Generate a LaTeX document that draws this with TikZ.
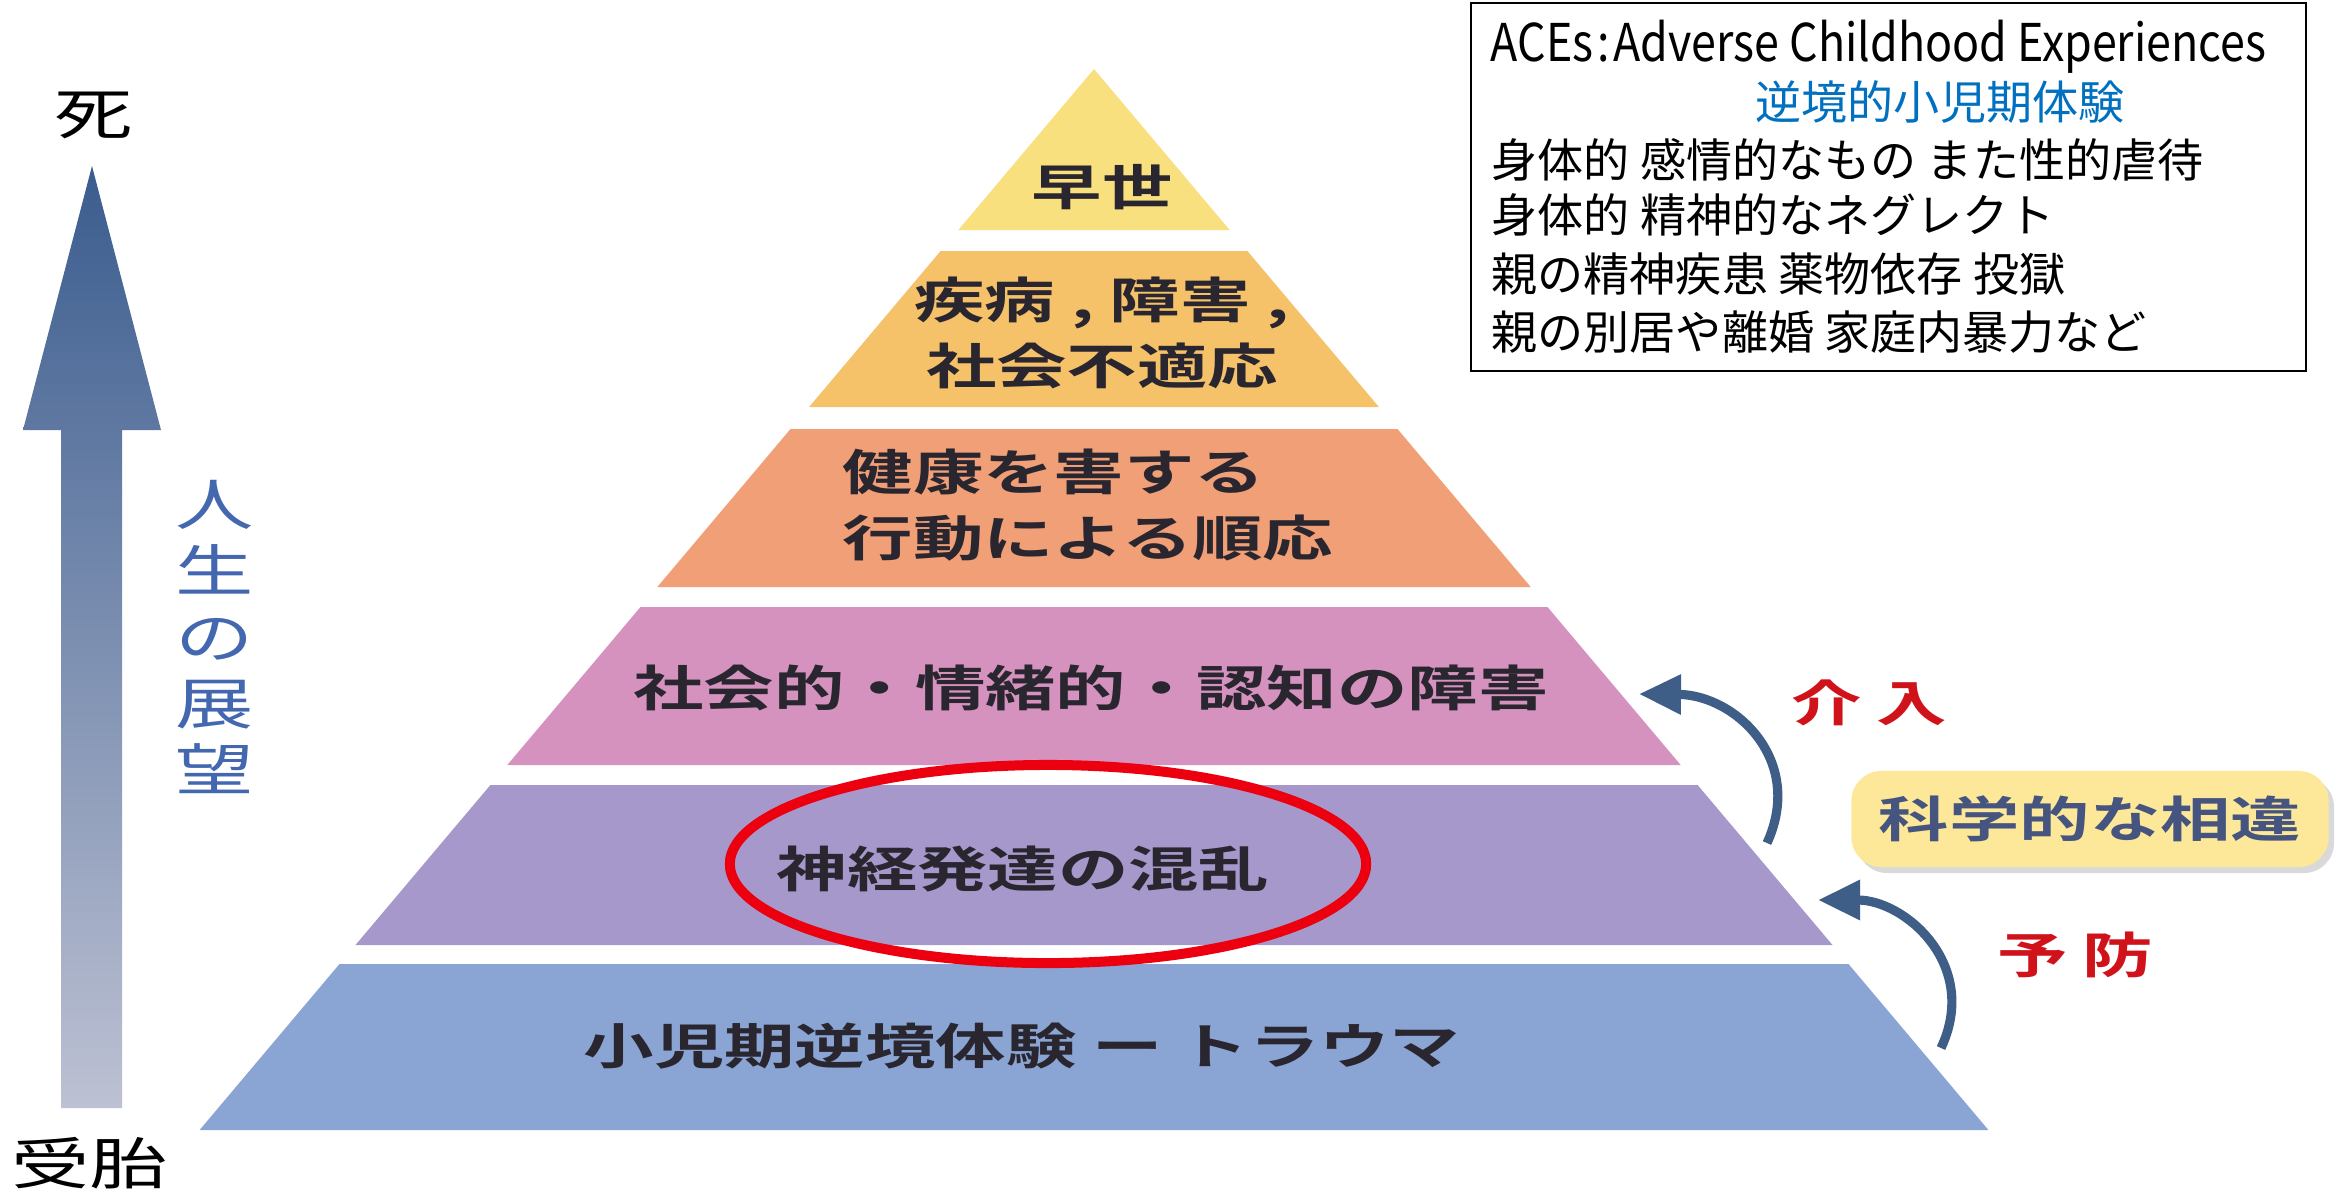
\documentclass[tikz,border=0pt]{standalone}
\usepackage{fontspec}
\usetikzlibrary{arrows.meta,shapes.geometric}
\newfontfamily\pyrfont[FakeStretch=1.44]{Noto Sans CJK JP Bold}
\newfontfamily\sidefont[FakeStretch=1.4]{Noto Sans CJK JP}
\newfontfamily\boxfont{Noto Sans CJK JP}
\newfontfamily\latinfont[FakeStretch=0.86]{Noto Sans CJK JP}
\definecolor{lyA}{HTML}{F9E07E}
\definecolor{lyB}{HTML}{F5C26A}
\definecolor{lyC}{HTML}{F09F77}
\definecolor{lyD}{HTML}{D592BF}
\definecolor{lyE}{HTML}{A698CA}
\definecolor{lyF}{HTML}{8AA5D4}
\definecolor{pyrtext}{HTML}{2A2630}
\definecolor{arctop}{HTML}{3A5C8E}
\definecolor{arcbot}{HTML}{BDC1D3}
\definecolor{lifeblue}{HTML}{4468B0}
\definecolor{curvecol}{HTML}{3E5E88}
\definecolor{redlabel}{HTML}{D0121B}
\definecolor{ellred}{HTML}{EC0010}
\definecolor{scifill}{HTML}{FCE898}
\definecolor{scitext}{HTML}{46557F}
\definecolor{aceblue}{HTML}{0070C0}
\tikzset{
  pyrlabel/.style={text=pyrtext, inner sep=0pt, font={\pyrfont\fontsize{13.9pt}{19pt}\selectfont}},
  sidelabel/.style={inner sep=0pt, font={\sidefont\fontsize{15.9pt}{18.8pt}\selectfont}},
  boxline/.style={inner sep=0pt, anchor=west, font={\boxfont\fontsize{13.1pt}{16pt}\selectfont}},
  curvearrow/.style={draw=curvecol, line width=2.6pt, -{Triangle[length=0.42cm,width=0.38cm]}},
  redlab/.style={text=redlabel, inner sep=0pt, font={\pyrfont\fontsize{13.9pt}{19pt}\selectfont}},
}
\begin{document}
\begin{tikzpicture}[x=0.01cm,y=-0.01cm]
\useasboundingbox (0,0) rectangle (2336,1196);
\fill[white] (0,0) rectangle (2336,1196);

% pyramid layers
\fill[lyA] (1094,69) -- (1229.7,230) -- (958.3,230) -- cycle;
\fill[lyB] (940.6,251) -- (1247.4,251) -- (1378.9,407) -- (809.1,407) -- cycle;
\fill[lyC] (790.5,429) -- (1397.5,429) -- (1530.7,587) -- (657.3,587) -- cycle;
\fill[lyD] (640.5,607) -- (1547.5,607) -- (1680.7,765) -- (507.3,765) -- cycle;
\fill[lyE] (490.4,785) -- (1697.6,785) -- (1832.5,945) -- (355.5,945) -- cycle;
\fill[lyF] (339.5,964) -- (1848.5,964) -- (1988.4,1130) -- (199.6,1130) -- cycle;

% pyramid texts
\node[pyrlabel] (t1) at (1102,187) {早世};
\node[pyrlabel, align=center] (t2) at (1102,333) {疾病 , 障害 ,\\社会不適応};
\node[pyrlabel, align=left, anchor=west] (t3) at (842,505) {健康を害する\\行動による順応};
\node[pyrlabel] (t4) at (1091,688) {社会的・情緒的・認知の障害};
\node[pyrlabel] (t5) at (1023,869) {神経発達の混乱};
\node[pyrlabel] (t6) at (1022,1046) {小児期逆境体験 ー トラウマ};

% red ellipse
\node[draw=ellred, line width=0.1cm, ellipse, inner sep=0pt, minimum width=6.36cm, minimum height=1.98cm] (ell) at (1048,864) {};

% life arrow
\shade[top color=arctop, bottom color=arcbot] (92,166) -- (161,430) -- (122,430) -- (122,1108) -- (61,1108) -- (61,430) -- (23,430) -- cycle;
\node[sidelabel] (death) at (94,115) {死};
\node[sidelabel] (birth) at (90,1163) {受胎};
\node[sidelabel, text=lifeblue, align=center] (life) at (215,637) {人\\生\\の\\展\\望};

% curved arrows
\coordinate (upS) at (1767,843);
\coordinate (upE) at (1639,694);
\draw[curvearrow] (upS) .. controls (1805,760) and (1735,695) .. (upE);
\coordinate (loS) at (1941,1048);
\coordinate (loE) at (1818,900);
\draw[curvearrow] (loS) .. controls (1980,965) and (1905,900) .. (loE);

\node[redlab] (intv) at (1869,703) {介\kern0.15cm入};
\node[redlab] (prev) at (2075,955) {予\kern0.15cm防};

% science box
\fill[gray!30, rounded corners=0.3cm] (1857,777) rectangle (2334,873);
\node[fill=scifill, rounded corners=0.3cm, minimum width=4.77cm, minimum height=0.96cm, inner sep=0pt, text=scitext, font={\pyrfont\fontsize{13.9pt}{19pt}\selectfont}] (sci) at (2090,819) {科学的な相違};

% ACEs box
\node[draw=black, line width=0.02cm, minimum width=8.35cm, minimum height=3.68cm, inner sep=0pt] (acebox) at (1888.5,187) {};
\node[boxline, font={\latinfont\fontsize{14.8pt}{16pt}\selectfont}] (l1) at (1490,47) {ACEs\kern0.04cm:\kern0.04cm Adverse Childhood Experiences};
\node[boxline, anchor=center, text=aceblue] (l2) at (1940,102) {逆境的小児期体験};
\node[boxline] (l3) at (1491,160) {身体的 感情的なもの また性的虐待};
\node[boxline] (l4) at (1491,215) {身体的 精神的なネグレクト};
\node[boxline] (l5) at (1491,274) {親の精神疾患 薬物依存 投獄};
\node[boxline] (l6) at (1491,332) {親の別居や離婚 家庭内暴力など};
\end{tikzpicture}
\end{document}
